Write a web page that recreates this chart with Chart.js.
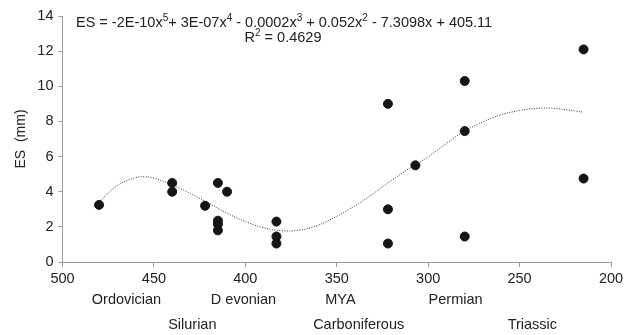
<!DOCTYPE html>
<html>
<head>
<meta charset="utf-8">
<script src="https://cdn.jsdelivr.net/npm/chart.js@4.4.0/dist/chart.umd.min.js"></script>
<style>
  html, body { margin: 0; padding: 0; background: #fff; }
  #wrap { width: 628px; height: 335px; }
</style>
</head>
<body>
<div id="wrap"><canvas id="chart" width="628" height="335"></canvas></div>
<script>
// samples (MYA vs ES in mm)
const sampleMya = [480, 440, 440, 422, 415, 415, 415, 415, 410, 383, 383, 383, 322, 322, 322, 307, 280, 280, 280, 215, 215];
const sampleEs = [3.25, 4.5, 4.0, 3.2, 4.5, 2.35, 2.15, 1.8, 4.0, 2.3, 1.45, 1.05, 9.0, 3.0, 1.05, 5.5, 10.3, 7.45, 1.45, 12.1, 4.75];

// dotted polynomial trendline, sampled from the figure
const trendMya = [480, 470, 460, 455, 450, 440, 430, 420, 410, 400, 390, 380, 370, 360, 350, 340, 330, 320, 310, 300, 290, 280, 270, 260, 250, 240, 230, 220, 215];
const trendEs = [3.4, 4.35, 4.8, 4.85, 4.78, 4.38, 3.9, 3.35, 2.78, 2.3, 1.95, 1.78, 1.82, 2.1, 2.6, 3.2, 3.9, 4.65, 5.35, 5.98, 6.75, 7.45, 7.98, 8.38, 8.62, 8.75, 8.73, 8.6, 8.52];

// geological periods under the axis
const periodNames = ['Ordovician', 'Silurian', 'D evonian', 'MYA', 'Carboniferous', 'Permian', 'Triassic'];
const periodMya = [465, 429, 401, 348, 338, 285, 243];
const periodRow = [0, 1, 0, 0, 1, 0, 1];

const xTicks = [500, 450, 400, 350, 300, 250, 200];
const yTicks = [0, 2, 4, 6, 8, 10, 12, 14];

const FONT = '"Liberation Sans", Arial, sans-serif';
const TEXT = '#222';
const AXIS = '#9a9a9a';

const annotations = {
  id: 'annotations',
  afterDraw(chart) {
    const { ctx, scales: { x } } = chart;
    ctx.save();
    ctx.fillStyle = TEXT;
    ctx.textBaseline = 'middle';

    // trendline equation with superscripts
    const parts = [
      ['ES = -2E-10x', false], ['5', true], ['+ 3E-07x', false], ['4', true],
      [' - 0.0002x', false], ['3', true], [' + 0.052x', false], ['2', true],
      [' - 7.3098x + 405.11', false]
    ];
    let cx = 76;
    parts.forEach(([txt, sup]) => {
      ctx.font = (sup ? '10px ' : '14.5px ') + FONT;
      ctx.fillText(txt, cx, sup ? 18 : 23);
      cx += ctx.measureText(txt).width;
    });

    // R squared, centred
    ctx.font = '10px ' + FONT;
    const w2 = ctx.measureText('2').width;
    ctx.font = '14.5px ' + FONT;
    const rA = 'R', rB = ' = 0.4629';
    const wTot = ctx.measureText(rA).width + w2 + ctx.measureText(rB).width;
    let rx = 283 - wTot / 2;
    ctx.fillText(rA, rx, 38);
    rx += ctx.measureText(rA).width;
    ctx.font = '10px ' + FONT;
    ctx.fillText('2', rx, 33);
    rx += w2;
    ctx.font = '14.5px ' + FONT;
    ctx.fillText(rB, rx, 38);

    // period labels
    ctx.textAlign = 'center';
    periodNames.forEach((name, i) => {
      ctx.fillText(name, x.getPixelForValue(periodMya[i]), periodRow[i] ? 325 : 300);
    });
    ctx.restore();
  }
};

new Chart(document.getElementById('chart'), {
  type: 'scatter',
  data: {
    datasets: [
      {
        data: sampleMya.map((m, i) => ({ x: m, y: sampleEs[i] })),
        backgroundColor: '#151515',
        borderColor: '#151515',
        pointRadius: 4.5,
        pointHoverRadius: 4.5
      },
      {
        data: trendMya.map((m, i) => ({ x: m, y: trendEs[i] })),
        showLine: true,
        borderColor: '#333',
        borderWidth: 1,
        borderDash: [1, 1.5],
        tension: 0.4,
        pointRadius: 0,
        fill: false
      }
    ]
  },
  options: {
    responsive: false,
    animation: false,
    layout: { padding: { top: 16, right: 17, left: 0, bottom: 0 } },
    plugins: { legend: { display: false }, tooltip: { enabled: false } },
    scales: {
      x: {
        type: 'linear',
        reverse: true,
        min: 200,
        max: 500,
        afterBuildTicks: (s) => { s.ticks = xTicks.map(v => ({ value: v })); },
        afterFit: (s) => { s.height = 73; },
        ticks: { color: TEXT, font: { family: FONT, size: 14.5 }, padding: 3, maxRotation: 0 },
        grid: { drawOnChartArea: false, tickLength: 5, color: AXIS },
        border: { color: AXIS }
      },
      y: {
        min: 0,
        max: 14,
        afterBuildTicks: (s) => { s.ticks = yTicks.map(v => ({ value: v })); },
        afterFit: (s) => { s.width = 62.5; },
        ticks: { color: TEXT, font: { family: FONT, size: 14.5 }, padding: 5 },
        grid: { drawOnChartArea: false, tickLength: 4, color: AXIS },
        border: { color: AXIS },
        title: {
          display: true,
          text: 'ES  (mm)',
          color: TEXT,
          font: { family: FONT, size: 14 },
          padding: { top: 13, bottom: 0 }
        }
      }
    }
  },
  plugins: [annotations]
});
</script>
</body>
</html>
